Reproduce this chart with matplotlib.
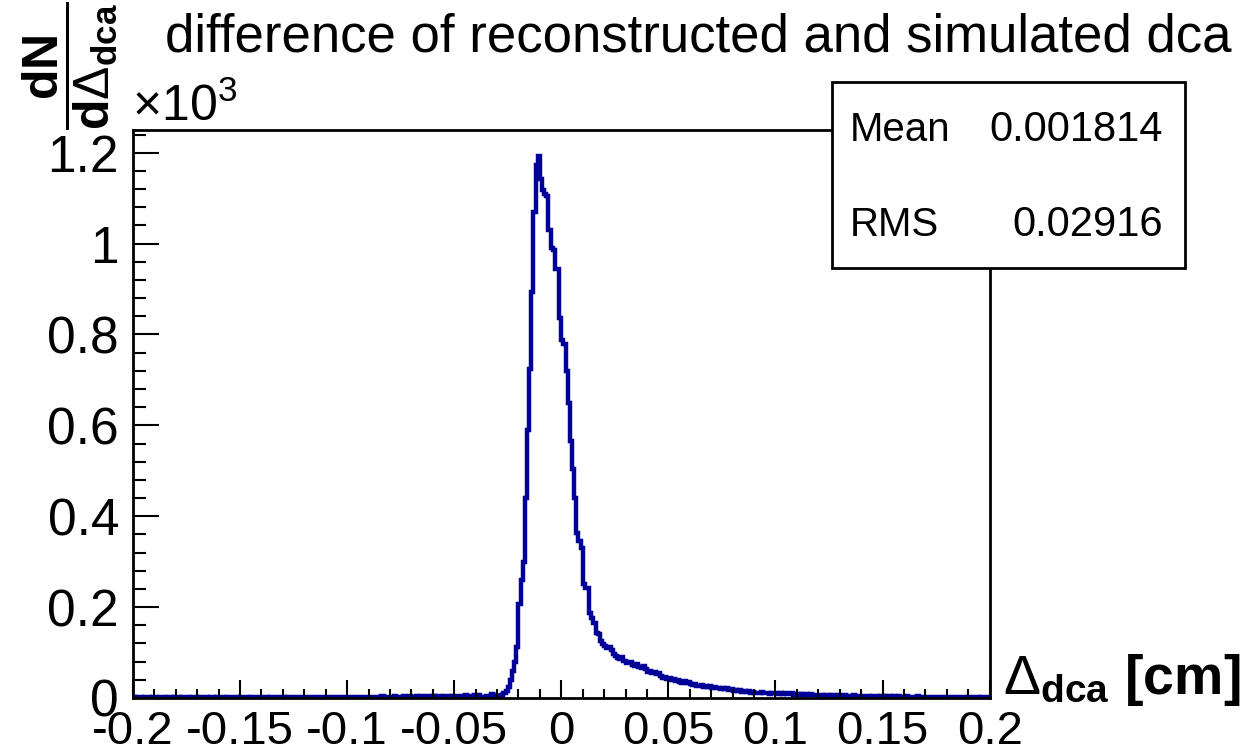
import matplotlib
matplotlib.use('Agg')
from matplotlib import pyplot as plt
from matplotlib.patches import Rectangle
from matplotlib.ticker import MultipleLocator, FuncFormatter
import numpy as np

# ROOT-like look: Helvetica -> Liberation Sans
plt.rcParams['font.family'] = ['Liberation Sans', 'DejaVu Sans']
plt.rcParams['mathtext.fontset'] = 'custom'
plt.rcParams['mathtext.rm'] = 'Liberation Sans'
plt.rcParams['mathtext.bf'] = 'Liberation Sans:bold'
plt.rcParams['mathtext.it'] = 'Liberation Sans:italic'
plt.rcParams['axes.unicode_minus'] = False

# histogram: 400 bins of 0.001 cm from -0.2 to 0.2
x_lo, x_hi = -0.2, 0.2
counts = [
    # -0.200 .. -0.161
    2, 1, 3, 2, 1, 2, 2, 3, 1, 2, 2, 1, 2, 3, 2, 1, 2, 2, 1, 3,
    2, 2, 1, 3, 2, 2, 1, 2, 3, 2, 1, 2, 2, 2, 3, 1, 2, 2, 1, 2,
    # -0.160 .. -0.121
    2, 3, 2, 1, 2, 2, 3, 2, 2, 1, 3, 2, 2, 2, 1, 2, 3, 2, 2, 2,
    3, 2, 2, 1, 2, 3, 2, 2, 3, 2, 2, 1, 3, 2, 2, 3, 2, 2, 2, 3,
    # -0.120 .. -0.081
    2, 3, 2, 2, 3, 2, 2, 3, 2, 3, 2, 2, 3, 2, 3, 2, 2, 3, 3, 2,
    3, 2, 3, 2, 3, 3, 2, 3, 2, 3, 3, 2, 3, 3, 2, 3, 4, 3, 2, 3,
    # -0.080 .. -0.041
    3, 3, 4, 2, 3, 3, 4, 3, 3, 4, 3, 3, 4, 3, 4, 3, 3, 4, 4, 3,
    4, 3, 4, 4, 3, 5, 4, 4, 3, 5, 4, 5, 4, 4, 5, 6, 4, 5, 5, 6,
    # -0.040 .. -0.001
    5, 6, 3, 3, 2, 4, 5, 8, 7, 4, 3, 5, 6, 10, 16, 25, 40, 60, 80, 113,
    206, 260, 300, 440, 590, 723, 893, 1070, 1172, 1192,
    1143, 1119, 1110, 1105, 1030, 990, 985, 945, 945, 836,
    # 0.000 .. 0.039
    788, 780, 719, 650, 566, 505, 440, 364, 345, 331,
    250, 242, 242, 186, 175, 165, 144, 140, 125, 118,
    114, 110, 112, 105, 96, 92, 88, 86, 90, 82,
    78, 76, 80, 72, 70, 74, 68, 66, 70, 64,
    # 0.040 .. 0.079
    58, 60, 55, 58, 52, 54, 48, 44, 46, 42, 44, 40, 42, 38, 40, 36, 34, 38, 33, 35,
    30, 28, 30, 27, 26, 28, 25, 27, 24, 26, 22, 24, 21, 23, 20, 22, 19, 21, 18, 20,
    # 0.080 .. 0.119
    16, 18, 15, 17, 14, 16, 13, 15, 12, 14, 11, 12, 10, 13, 11, 10, 12, 9, 11, 10,
    10, 9, 11, 8, 10, 9, 8, 10, 7, 9, 8, 7, 9, 7, 8, 6, 8, 7, 6, 7,
    # 0.120 .. 0.159
    7, 6, 5, 7, 6, 5, 6, 7, 5, 6, 5, 4, 6, 5, 4, 5, 6, 4, 5, 4,
    5, 4, 4, 5, 3, 4, 5, 4, 3, 4, 4, 3, 5, 4, 3, 4, 3, 4, 3, 3,
    # 0.160 .. 0.199
    3, 4, 3, 3, 2, 3, 4, 3, 2, 3, 3, 2, 3, 3, 2, 3, 2, 3, 2, 2,
    3, 2, 2, 3, 2, 2, 3, 2, 2, 1, 2, 2, 3, 2, 2, 1, 2, 2, 2, 1,
]
edges = np.linspace(x_lo, x_hi, len(counts) + 1)

title = 'difference of reconstructed and simulated dca'
stat_names = ['Mean', 'RMS']
stat_values = ['0.001814', '0.02916']

fig = plt.figure(figsize=(12.58, 7.55), dpi=100)
ax = fig.add_axes([0.1057, 0.0755, 0.681, 0.7523])
ax.stairs(counts, edges, color='#000099', lw=3.2, baseline=None)

ax.set_xlim(x_lo, x_hi)
ax.set_ylim(0, 1250)
ax.xaxis.set_major_locator(MultipleLocator(0.05))
ax.xaxis.set_minor_locator(MultipleLocator(0.01))
ax.yaxis.set_major_locator(MultipleLocator(200))
ax.yaxis.set_minor_locator(MultipleLocator(40))
ax.xaxis.set_major_formatter(FuncFormatter(lambda v, p: '%g' % round(v, 3)))
ax.yaxis.set_major_formatter(FuncFormatter(lambda v, p: '%g' % round(v / 1000, 3)))

ax.tick_params(which='both', direction='in', top=False, right=False, width=1.5, color='black')
ax.tick_params(axis='x', which='major', length=13, pad=9, labelsize=34)
ax.tick_params(axis='x', which='minor', length=6.5)
ax.tick_params(axis='y', which='major', length=19, pad=10, labelsize=37)
ax.tick_params(axis='y', which='minor', length=9.5)
for s in ax.spines.values():
    s.set_linewidth(2)

# title and axis titles, placed like ROOT does
fig.text(0.131, 0.95, title, fontsize=38, ha='left', va='center')
fig.text(0.056, 0.998, r'$\dfrac{\mathbf{dN}}{\mathbf{d}\Delta_{\mathbf{dca}}}$',
         fontsize=36, rotation=90, ha='center', va='top')
fig.text(0.105, 0.826, r'$\times10^{3}$', fontsize=36, ha='left', va='bottom')
fig.text(0.797, 0.1, r'$\Delta_{\mathbf{dca}}$ [cm]', fontsize=40, fontweight='bold',
         ha='left', va='center')

# stats box
fig.add_artist(Rectangle((0.6614, 0.645), 0.2806, 0.2464, transform=fig.transFigure,
                         facecolor='white', edgecolor='black', lw=2, zorder=5))
for i, (nm, val) in enumerate(zip(stat_names, stat_values)):
    yy = 0.8278 - i * 0.1258
    fig.text(0.6757, yy, nm, fontsize=29, ha='left', va='center', zorder=6)
    fig.text(0.9245, yy, val, fontsize=30, ha='right', va='center', zorder=6)

fig.savefig('out.png', dpi=100)
